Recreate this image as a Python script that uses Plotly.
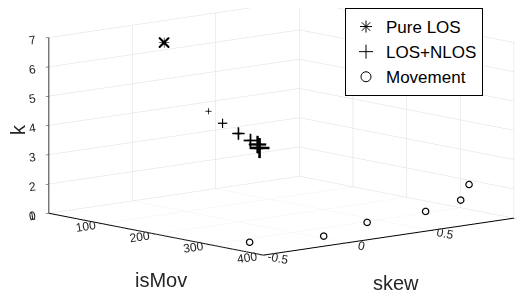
import plotly.graph_objects as go

# ---- data ----
pure_ismov = [0]
pure_skew = [0.19]
pure_k = [6.25]

nlos_ismov = [0, 0, 0, 0, 0, 0]
nlos_skew = [0.456, 0.54, 0.635, 0.707, 0.749, 0.761]
nlos_k = [3.68, 3.20, 2.77, 2.47, 2.30, 2.17]
nlos_sizes = [10, 15, 20, 22, 28, 32]

mov_ismov = [374, 400, 400, 400, 400, 400]
mov_skew = [-0.5, -0.14, 0.12, 0.47, 0.68, 0.73]
mov_k = [1.35, 1.35, 1.6, 1.68, 1.89, 2.38]

ismov_ticks = [0, 100, 200, 300, 400]
skew_ticks = [-0.5, 0, 0.5, 1]
k_ticks = [1, 2, 3, 4, 5, 6, 7]

FONT = "Liberation Sans"
TICKC = "#262626"
R = 30.0
S = 2.188
D = (0.7438, -0.6466, 0.1697)          # view direction
C = (-0.0223, -0.0768, -0.1954)        # look-at point (shifts the box)

fig = go.Figure()

# Pure LOS: eight-spoked asterisk
fig.add_trace(go.Scatter3d(
    x=pure_ismov, y=pure_skew, z=pure_k, mode="text",
    text=["✳"], textposition="middle center",
    textfont=dict(family="DejaVu Sans", size=14, color="black"),
    showlegend=False, hoverinfo="skip"))
fig.add_trace(go.Scatter3d(
    x=pure_ismov, y=pure_skew, z=pure_k, mode="markers",
    marker=dict(symbol="x", size=2.5, color="black"),
    showlegend=False, hoverinfo="skip"))

# LOS+NLOS: thin plus glyphs
fig.add_trace(go.Scatter3d(
    x=nlos_ismov, y=nlos_skew, z=nlos_k, mode="text",
    text=["+"] * len(nlos_k), textposition="middle center",
    textfont=dict(family="DejaVu Sans", size=nlos_sizes, color="black"),
    showlegend=False, hoverinfo="skip"))

# Movement: open circles
fig.add_trace(go.Scatter3d(
    x=mov_ismov, y=mov_skew, z=mov_k, mode="markers",
    marker=dict(symbol="circle-open", size=4, color="black",
                line=dict(color="black", width=1)),
    showlegend=False, hoverinfo="skip"))

# legend entries
for name, sym in [("Pure LOS", "asterisk-open"), ("LOS+NLOS", "cross-thin-open"),
                  ("Movement", "circle-open")]:
    fig.add_trace(go.Scatter(
        x=[None], y=[None], mode="markers", name=name,
        marker=dict(symbol=sym, size=10, color="black",
                    line=dict(color="black", width=1))))

axis_common = dict(
    showline=True, linecolor="black", linewidth=2,
    ticks="outside", ticklen=4, tickcolor=TICKC,
    showgrid=True, gridcolor="#dedede", gridwidth=1,
    zeroline=False, showbackground=False, showspikes=False,
    tickfont=dict(family=FONT, size=12, color=TICKC),
    title=dict(text=""),
)

title_font = dict(family=FONT, size=20, color=TICKC)

fig.update_layout(
    width=525, height=299,
    margin=dict(l=0, r=0, t=0, b=0, autoexpand=False),
    paper_bgcolor="white", plot_bgcolor="white",
    font=dict(family=FONT, color=TICKC),
    xaxis=dict(visible=False), yaxis=dict(visible=False),
    scene=dict(
        domain=dict(x=[0, 1], y=[0, 1]),
        xaxis=dict(axis_common, range=[0, 400], tickvals=ismov_ticks),
        yaxis=dict(axis_common, range=[-0.5, 1], tickvals=skew_ticks,
                   ticktext=["-0.5", "0", "0.5", "1"]),
        zaxis=dict(axis_common, range=[1, 7], tickvals=k_ticks),
        aspectmode="manual",
        aspectratio=dict(x=1 * S, y=1.015 * S, z=0.545 * S),
        camera=dict(
            eye=dict(x=C[0] + D[0] * R, y=C[1] + D[1] * R, z=C[2] + D[2] * R),
            up=dict(x=0, y=0, z=1),
            center=dict(x=C[0], y=C[1], z=C[2]),
            projection=dict(type="orthographic")),
    ),
    annotations=[
        dict(text="isMov", x=153 / 525, y=1 - 272 / 299, xref="paper", yref="paper",
             showarrow=False, font=title_font, xanchor="center", yanchor="middle"),
        dict(text="skew", x=388 / 525, y=1 - 275 / 299, xref="paper", yref="paper",
             showarrow=False, font=title_font, xanchor="center", yanchor="middle"),
        dict(text="k", x=10 / 525, y=1 - 122 / 299, xref="paper", yref="paper",
             showarrow=False, font=title_font, textangle=-90,
             xanchor="center", yanchor="middle"),
    ],
    legend=dict(
        x=475 / 525, xanchor="right", y=1.0, yanchor="top",
        bgcolor="white", bordercolor="black", borderwidth=1,
        font=dict(family=FONT, size=17, color="black"),
        itemwidth=30, tracegroupgap=0),
)

fig.write_html("out.html")
